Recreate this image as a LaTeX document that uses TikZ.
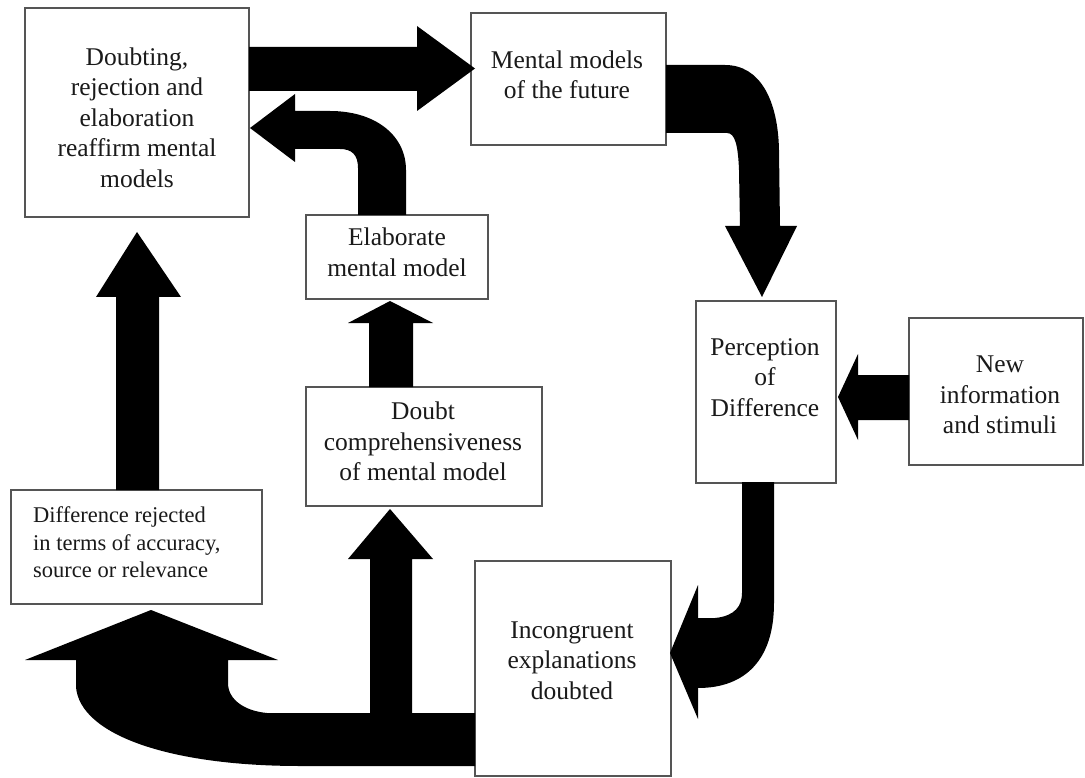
\documentclass[tikz,border=0pt]{standalone}
\usepackage{fontspec}
\setmainfont{Liberation Serif}
\definecolor{boxgray}{HTML}{555555}
\definecolor{textdark}{HTML}{1A1A1A}
\begin{document}
\begin{tikzpicture}[x=1pt,y=-1pt,
  box/.style={draw=boxgray, line width=1.1pt, fill=white, inner sep=0pt},
  txt/.style={inner sep=0pt, align=center, text=textdark, font=\fontsize{25.5}{30.5}\selectfont},
  smalltxt/.style={inner sep=0pt, align=left, text=textdark, font=\fontsize{22.5}{27.5}\selectfont},
  blk/.style={fill=black, draw=none}]
\useasboundingbox (0,0) rectangle (1085,778);
\fill[white] (0,0) rectangle (1085,778);

% boxes
\node[box, minimum width=224pt, minimum height=209pt] (A) at (137,112.5) {};
\node[box, minimum width=195pt, minimum height=132pt] (B) at (568.5,79) {};
\node[box, minimum width=182pt, minimum height=84pt]  (E) at (397,257) {};
\node[box, minimum width=236pt, minimum height=119pt] (D) at (424,446.5) {};
\node[box, minimum width=251pt, minimum height=114pt] (R) at (136.5,547) {};
\node[box, minimum width=140pt, minimum height=182pt] (P) at (766,392) {};
\node[box, minimum width=174pt, minimum height=147pt] (N) at (996,391.5) {};
\node[box, minimum width=196pt, minimum height=215pt] (I) at (573,668.5) {};

% block arrows
% A -> B
\path[blk] (249,47) -- (417,47) -- (417,26) -- (475,68.5) -- (417,111) -- (417,91) -- (249,91) -- cycle;
% E -> A (bent)
\path[blk] (358,215) -- (358,168) .. controls (358,155) and (352,149) .. (340,149) -- (295,149) -- (295,162)
  -- (250,128) -- (295,94) -- (295,111) -- (330,111) .. controls (375,111) and (406,135) .. (406,170)
  -- (406,215) -- cycle;
% B -> P (bent down)
\path[blk] (666,65) -- (725,65) .. controls (760,65) and (778,100) .. (779,150) -- (780,226) -- (797,226)
  -- (762,297) -- (725,226) -- (740,226) -- (739,170) .. controls (738,145) and (735,133) .. (727,133)
  -- (666,133) -- cycle;
% N -> P
\path[blk] (909,375) -- (858,375) -- (858,354) -- (838,397) -- (858,440) -- (858,420) -- (909,420) -- cycle;
% P -> I (hook)
\path[blk] (742,482) -- (742,593) .. controls (742,606) and (735,616) .. (715,618) -- (698,618) -- (698,585)
  -- (670,653) -- (698,719) -- (698,688) .. controls (745,688) and (774,660) .. (774,603) -- (774,482) -- cycle;
% D -> E
\path[blk] (369,387) -- (369,323) -- (348,323) -- (390,301) -- (433,323) -- (413,323) -- (413,387) -- cycle;
% R -> A
\path[blk] (116,490) -- (116,297) -- (96,297) -- (137,232) -- (181,297) -- (159,297) -- (159,490) -- cycle;
% I -> D and I -> R
\path[blk] (475,713) -- (412,713) -- (412,559) -- (433,559) -- (390,509) -- (348,559) -- (370,559)
  -- (370,713) -- (267,713) .. controls (245,711) and (228,700) .. (228,683) -- (228,660) -- (278,660)
  -- (151,610) -- (25,660) -- (76,660) -- (76,687) .. controls (80,735) and (170,766) .. (300,766)
  -- (475,766) -- cycle;

% texts
\node[txt] (tA) at (137,117.5) {Doubting,\\rejection and\\elaboration\\reaffirm mental\\models};
\node[txt] (tB) at (567,75) {Mental models\\of the future};
\node[txt] (tE) at (397,252.5) {Elaborate\\mental model};
\node[txt] (tD) at (423,441.5) {Doubt\\comprehensiveness\\of mental model};
\node[smalltxt, anchor=west] (tR) at (33,542.5) {Difference rejected\\in terms of accuracy,\\source or relevance};
\node[txt] (tP) at (765,377.5) {Perception\\of\\Difference};
\node[txt] (tN) at (1000,395) {New\\information\\and stimuli};
\node[txt] (tI) at (572,660.5) {Incongruent\\explanations\\doubted};
\end{tikzpicture}
\end{document}
